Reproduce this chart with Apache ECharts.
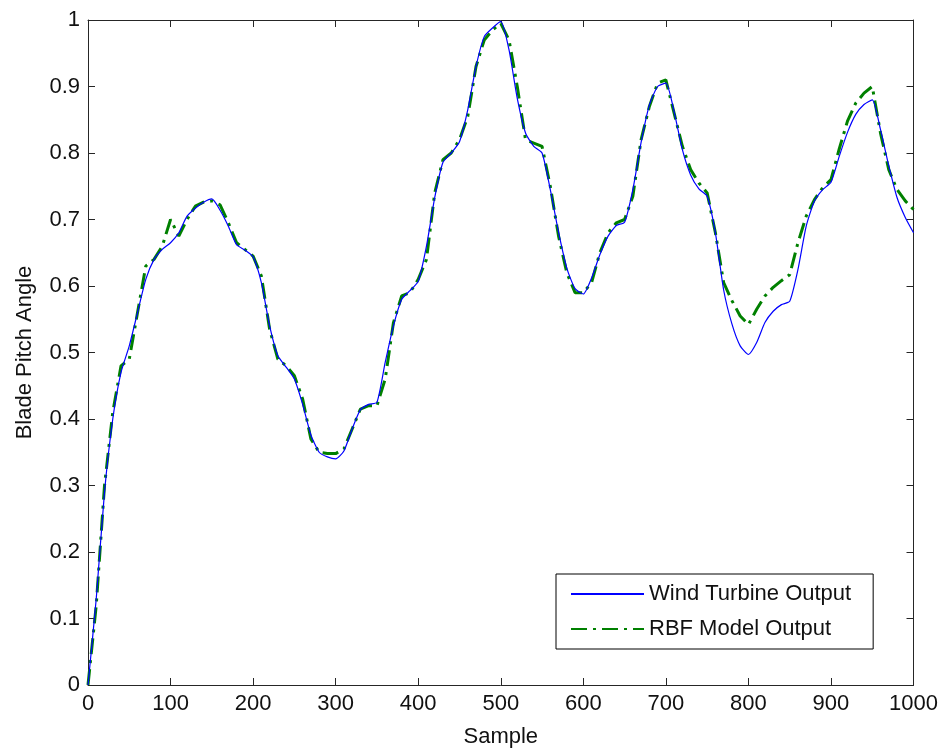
<!DOCTYPE html>
<html>
<head>
<meta charset="utf-8">
<script src="https://cdn.jsdelivr.net/npm/echarts@6/dist/echarts.min.js"></script>
<style>
html,body{margin:0;padding:0;background:#fff;}
#c{width:941px;height:753px;}
</style>
</head>
<body>
<div id="c"></div>
<script>
var samples = [0,10,20,30,40,50,60,70,80,90,100,110,120,130,140,150,160,170,180,190,200,210,220,230,240,250,260,270,280,290,300,310,320,330,340,350,360,370,380,390,400,410,420,430,440,450,460,470,480,490,500,510,520,530,540,550,560,570,580,590,600,610,620,630,640,650,660,670,680,690,700,710,720,730,740,750,760,770,780,790,800,810,820,830,840,850,860,870,880,890,900,910,920,930,940,950,960,970,980,990,1000];

var windTurbine = [0.00,0.13,0.29,0.40,0.47,0.51,0.56,0.61,0.64,0.655,0.665,0.68,0.705,0.717,0.726,0.731,0.714,0.69,0.662,0.654,0.644,0.605,0.54,0.495,0.478,0.46,0.422,0.376,0.35,0.343,0.340,0.352,0.385,0.414,0.422,0.425,0.485,0.54,0.58,0.593,0.607,0.66,0.733,0.786,0.800,0.817,0.865,0.93,0.975,0.988,0.998,0.955,0.882,0.83,0.81,0.80,0.745,0.681,0.627,0.596,0.588,0.612,0.647,0.675,0.691,0.696,0.745,0.816,0.872,0.900,0.905,0.862,0.805,0.767,0.746,0.735,0.68,0.594,0.543,0.510,0.497,0.515,0.545,0.562,0.572,0.577,0.625,0.690,0.728,0.745,0.756,0.795,0.831,0.858,0.873,0.880,0.835,0.781,0.733,0.703,0.680];

var rbfModel = [0.00,0.12,0.30,0.41,0.48,0.49,0.56,0.63,0.64,0.66,0.70,0.675,0.70,0.72,0.726,0.728,0.722,0.695,0.665,0.655,0.645,0.615,0.535,0.49,0.48,0.465,0.43,0.37,0.35,0.348,0.348,0.355,0.385,0.415,0.42,0.42,0.46,0.545,0.585,0.59,0.61,0.64,0.74,0.79,0.80,0.82,0.855,0.93,0.97,0.985,0.995,0.97,0.90,0.82,0.815,0.81,0.75,0.675,0.62,0.59,0.59,0.605,0.65,0.68,0.695,0.70,0.735,0.82,0.87,0.905,0.91,0.86,0.81,0.775,0.755,0.74,0.68,0.605,0.578,0.555,0.542,0.565,0.585,0.598,0.608,0.617,0.665,0.705,0.73,0.748,0.76,0.806,0.848,0.875,0.89,0.90,0.83,0.775,0.745,0.728,0.715];

var seriesNames = ['Wind Turbine Output', 'RBF Model Output'];
var xTitle = 'Sample';
var yTitle = 'Blade Pitch Angle';

function pairs(ys){ var out=[]; for(var i=0;i<samples.length;i++){ out.push([samples[i], ys[i]]); } return out; }

var FONT = "'Liberation Sans', Arial, Helvetica, sans-serif";
var axisColor = '#262626';
var chart = echarts.init(document.getElementById('c'), null, {renderer:'canvas'});
chart.setOption({
  backgroundColor: '#ffffff',
  animation: false,
  textStyle: {fontFamily: FONT},
  grid: {left: 88, top: 20, width: 827, height: 669, containLabel: false},
  legend: {
    orient: 'vertical',
    left: 556, top: 574,
    padding: [9, 22, 9, 14],
    itemGap: 13,
    itemWidth: 73, itemHeight: 14,
    borderColor: '#000', borderWidth: 1,
    backgroundColor: '#fff',
    itemStyle: {opacity: 0},
    textStyle: {fontFamily: FONT, fontSize: 22, color: '#111'},
    data: seriesNames
  },
  xAxis: [{
    type: 'value', min: 0, max: 1000, interval: 100,
    position: 'bottom',
    name: xTitle, nameLocation: 'middle', nameGap: 41,
    nameTextStyle: {fontFamily: FONT, fontSize: 22, color: '#111'},
    axisLine: {show: true, onZero: false, lineStyle: {color: axisColor, width: 1}},
    axisTick: {show: true, inside: true, length: 7, lineStyle: {color: axisColor}},
    axisLabel: {fontFamily: FONT, fontSize: 22, color: '#111', margin: 8, formatter: function(v){ return String(v); }},
    splitLine: {show: false}
  },{
    type: 'value', min: 0, max: 1000, interval: 100,
    position: 'top',
    axisLine: {show: true, onZero: false, lineStyle: {color: axisColor, width: 1}},
    axisTick: {show: true, inside: true, length: 7, lineStyle: {color: axisColor}},
    axisLabel: {show: false},
    splitLine: {show: false}
  }],
  yAxis: [{
    type: 'value', min: 0, max: 1, interval: 0.1,
    position: 'left',
    name: yTitle, nameLocation: 'middle', nameGap: 52, nameRotate: 90,
    nameTextStyle: {fontFamily: FONT, fontSize: 22, color: '#111'},
    axisLine: {show: true, onZero: false, lineStyle: {color: axisColor, width: 1}},
    axisTick: {show: true, inside: true, length: 7, lineStyle: {color: axisColor}},
    axisLabel: {fontFamily: FONT, fontSize: 22, color: '#111', margin: 8},
    splitLine: {show: false}
  },{
    type: 'value', min: 0, max: 1, interval: 0.1,
    position: 'right',
    axisLine: {show: true, onZero: false, lineStyle: {color: axisColor, width: 1}},
    axisTick: {show: true, inside: true, length: 7, lineStyle: {color: axisColor}},
    axisLabel: {show: false},
    splitLine: {show: false}
  }],
  series: [{
    name: seriesNames[0], type: 'line', xAxisIndex: 0, yAxisIndex: 0,
    data: pairs(windTurbine),
    showSymbol: false, symbol: 'none', smooth: 0.2,
    lineStyle: {color: '#0000ff', width: 1.2, type: 'solid'},
    itemStyle: {color: '#0000ff'},
    z: 3
  },{
    name: seriesNames[1], type: 'line', xAxisIndex: 0, yAxisIndex: 0,
    data: pairs(rbfModel),
    showSymbol: false, symbol: 'none',
    lineStyle: {color: '#008000', width: 3, type: [16, 6, 3, 6]},
    itemStyle: {color: '#008000'},
    z: 2
  }]
});
</script>
</body>
</html>
